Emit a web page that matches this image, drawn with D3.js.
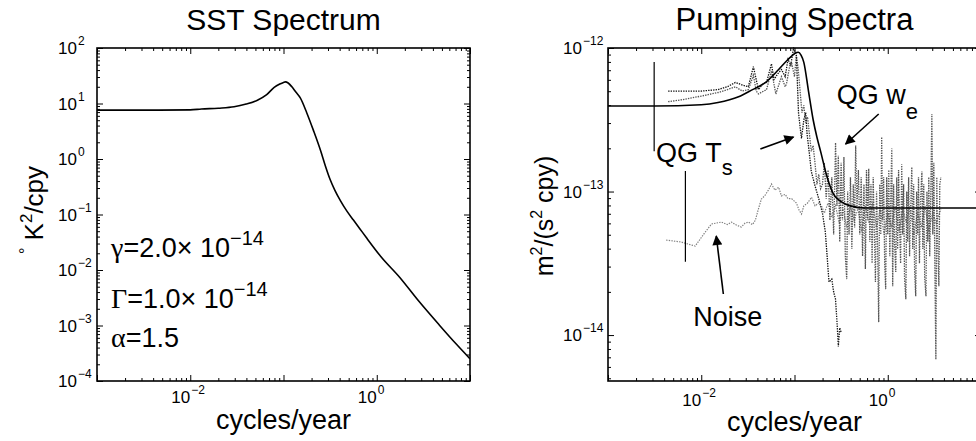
<!DOCTYPE html>
<html><head><meta charset="utf-8">
<script src="https://cdn.jsdelivr.net/npm/d3@7"></script>
<style>
body{margin:0;background:#fff}
text{font-family:"Liberation Sans",Arial,Helvetica,sans-serif;fill:#000}
</style>
</head><body>
<svg id="c" width="976" height="441"></svg>
<script>
// ---------------- DATA (log10 of frequency [cpy], log10 of spectral density) ----------------
const sstLogF = [-3, -2.5, -2.0, -1.88, -1.7, -1.53, -1.4, -1.28, -1.18, -1.1, -1.04, -1.0, -0.98, -0.95, -0.91, -0.87, -0.82, -0.75, -0.68, -0.6, -0.55, -0.5, -0.45, -0.39, -0.32, -0.25, -0.18, -0.11, 0.05, 0.245, 0.45, 0.67, 0.85, 1.0];
const sstLogP = [0.88, 0.88, 0.885, 0.9, 0.915, 0.94, 0.99, 1.06, 1.16, 1.29, 1.35, 1.38, 1.39, 1.37, 1.30, 1.21, 1.10, 0.83, 0.52, 0.14, -0.13, -0.37, -0.56, -0.75, -0.94, -1.1, -1.26, -1.42, -1.77, -2.13, -2.56, -2.99, -3.33, -3.6];

const modelLogF = [-3, -2.5, -2.0, -1.82, -1.6, -1.45, -1.31, -1.17, -1.07, -1.0, -0.96, -0.93, -0.9, -0.85, -0.8, -0.76, -0.72, -0.65, -0.58, -0.5, -0.4, -0.25, 0, 0.5, 1.0];
const modelLogS = [-12.404, -12.404, -12.395, -12.38, -12.34, -12.29, -12.24, -12.15, -12.08, -12.04, -12.03, -12.05, -12.1, -12.3, -12.5, -12.62, -12.72, -12.9, -13.02, -13.07, -13.1, -13.115, -13.115, -13.115, -13.115];

const qgTsLogF = [-2.355, -2.2, -2.0, -1.82, -1.72, -1.634, -1.55, -1.495, -1.441, -1.387, -1.34, -1.30, -1.247, -1.22, -1.18, -1.14, -1.10, -1.07, -1.04, -1.01, -0.98, -0.957, -0.94, -0.925, -0.9, -0.88, -0.865, -0.85, -0.82, -0.78, -0.74, -0.7, -0.67, -0.65, -0.63, -0.6, -0.58, -0.56, -0.545, -0.53, -0.515, -0.5];
const qgTsLogS = [-12.30, -12.30, -12.30, -12.29, -12.27, -12.24, -12.26, -12.27, -12.13, -12.29, -12.25, -12.24, -12.11, -12.22, -12.18, -12.15, -12.2, -12.08, -12.12, -12.0, -12.05, -12.45, -12.55, -12.63, -12.5, -12.45, -12.6, -12.68, -12.86, -12.96, -13.05, -13.15, -13.28, -13.45, -13.63, -13.61, -13.7, -13.75, -13.9, -14.08, -13.95, -13.98];

const qgWeLogF = [-2.355, -2.2, -2.0, -1.817, -1.72, -1.634, -1.56, -1.495, -1.441, -1.41, -1.387, -1.30, -1.247, -1.2, -1.14, -1.1, -1.086, -1.05, -1.032, -1.0, -0.98, -0.96, -0.94, -0.92, -0.9, -0.88, -0.86, -0.84, -0.82, -0.8, -0.78, -0.76, -0.74, -0.72,
  -0.70, -0.68, -0.66, -0.64, -0.62, -0.60, -0.58, -0.56, -0.545, -0.53, -0.515, -0.50, -0.485, -0.47, -0.455, -0.44, -0.43, -0.415, -0.40, -0.385, -0.37, -0.355, -0.344, -0.33, -0.315, -0.30, -0.285, -0.27, -0.255, -0.24, -0.228, -0.216, -0.204, -0.192, -0.18, -0.168, -0.156, -0.144, -0.132, -0.12, -0.108, -0.097, -0.086, -0.075, -0.065, -0.055, -0.044, -0.033, -0.022, -0.011,
  0.0, 0.011, 0.022, 0.033, 0.043, 0.053, 0.063, 0.073, 0.086, 0.096, 0.106, 0.116, 0.126, 0.138, 0.15, 0.16, 0.17, 0.18, 0.194, 0.204, 0.214, 0.224, 0.234, 0.246, 0.258, 0.268, 0.278, 0.288, 0.30, 0.31, 0.32, 0.33, 0.34, 0.352, 0.366, 0.376, 0.386, 0.396, 0.41, 0.42, 0.43, 0.44, 0.45, 0.462, 0.473, 0.483, 0.494, 0.505, 0.516, 0.526, 0.537, 0.548, 0.558, 0.57];
const qgWeLogS = [-12.374, -12.36, -12.335, -12.31, -12.29, -12.27, -12.3, -12.29, -12.19, -12.3, -12.32, -12.29, -12.16, -12.32, -12.2, -12.27, -12.25, -12.12, -12.10, -12.2, -12.05, -12.15, -12.3, -12.45, -12.4, -12.52, -12.48, -12.6, -12.72, -12.68, -12.8, -12.95, -12.88, -12.98,
  -12.95, -12.80, -13.05, -12.85, -13.2, -12.9, -13.3, -12.66, -13.1, -12.75, -13.35, -12.8, -13.2, -12.76, -13.45, -13.61, -13.0, -13.3, -12.9, -13.4, -12.95, -13.25, -12.68, -13.1, -12.85, -13.3, -12.9, -13.45, -12.95, -13.54, -12.85, -13.2, -12.84, -13.35, -12.95, -13.5, -12.9, -13.3, -13.63, -13.0, -13.4, -13.91, -12.95, -13.3, -12.62, -13.2, -12.9, -13.5, -13.68, -12.9,
  -13.3, -12.85, -13.45, -13.0, -12.70, -13.66, -12.95, -13.35, -13.56, -12.9, -13.4, -12.85, -13.2, -13.5, -12.81, -13.3, -12.95, -13.6, -13.75, -13.0, -13.35, -12.9, -13.45, -13.1, -12.83, -13.4, -12.95, -13.55, -13.73, -13.0, -13.3, -12.9, -13.5, -13.05, -12.86, -13.4, -12.95, -13.6, -13.73, -13.0, -13.35, -12.9, -13.45, -13.0, -12.46, -13.3, -12.8, -13.5, -14.17, -12.9, -13.4, -13.66, -12.95, -12.9];

const noiseLogF = [-2.376, -2.215, -2.065, -1.957, -1.89, -1.785, -1.72, -1.677, -1.62, -1.57, -1.53, -1.495, -1.45, -1.42, -1.387, -1.355, -1.32, -1.28, -1.247, -1.21, -1.17, -1.14, -1.1, -1.07, -1.03, -0.98, -0.95, -0.925, -0.9, -0.86, -0.817, -0.78, -0.74, -0.71, -0.68, -0.64, -0.6, -0.56, -0.52, -0.48, -0.44, -0.4, -0.36, -0.32, -0.28, -0.24, -0.2, -0.16, -0.12, -0.08, -0.04, 0, 0.04, 0.08, 0.12, 0.16, 0.2, 0.24, 0.28, 0.32, 0.36, 0.4, 0.44, 0.48, 0.52, 0.57];
const noiseLogS = [-13.338, -13.352, -13.38, -13.282, -13.226, -13.213, -13.23, -13.213, -13.235, -13.247, -13.22, -13.213, -13.23, -13.2, -13.122, -13.052, -13.03, -12.99, -12.948, -12.99, -12.97, -13.03, -13.02, -13.05, -13.05, -13.08, -13.13, -13.157, -13.1, -13.08, -13.04, -13.1, -13.08, -13.1, -13.15, -13.08, -13.18, -13.1, -13.22, -13.12, -13.25, -13.1, -13.2, -13.12, -13.28, -13.1, -13.22, -13.08, -13.25, -13.12, -13.3, -13.15, -13.25, -13.1, -13.28, -13.12, -13.22, -13.1, -13.3, -13.15, -13.25, -13.1, -13.28, -13.15, -13.22, -13.12];

// confidence bars: [log10 f, log10 S low, log10 S high]
const confBars = [[-2.505, -12.72, -12.098], [-2.17, -13.49, -12.857]];

// tick labels (exponents)
const sstXLabelExp = [-2, 0];
const sstYLabelExp = [2, 1, 0, -1, -2, -3, -4];
const pumpXLabelExp = [-2, 0];
const pumpYLabelExp = [-12, -13, -14];

// annotations (right panel, log10 coords): text and arrows
const pumpTexts = [
  {main: "QG T", sub: "s", lf: -2.484, ls: -12.792, dy: 13},
  {main: "QG w", sub: "e", lf: -0.548, ls: -12.39, dy: 15},
  {main: "Noise", sub: "", lf: -2.086, ls: -13.937, dy: 0}
];
const pumpArrows = [
  {from: [-1.366, -12.704], to: [-1.011, -12.62]},
  {from: [-0.097, -12.46], to: [-0.452, -12.669]},
  {from: [-1.763, -13.714], to: [-1.839, -13.31]}
];
// left panel parameter text
const paramLines = [
  {sym: "γ", rest: "=2.0× 10", exp: "−14"},
  {sym: "Γ", rest: "=1.0× 10", exp: "−14"},
  {sym: "α", rest: "=1.5", exp: ""}
];

// ---------------- DRAWING ----------------
const svg = d3.select("#c");
const P = v => Math.pow(10, v);
const minus = s => String(s).replace("-", "−");

const L = {left: 97, right: 470, top: 48, bottom: 381};
const R = {left: 608, right: 981, top: 48, bottom: 381};

const xL = d3.scaleLog().domain([1e-3, 10]).range([L.left, L.right]);
const yL = d3.scaleLog().domain([1e-4, 1e2]).range([L.bottom, L.top]);
const xR = d3.scaleLog().domain([1e-3, 10]).range([R.left, R.right]);
const yR = d3.scaleLog().domain([P(-14.32), 1e-12]).range([R.bottom, R.top]);

function frame(box, x, y, id) {
  const g = svg.append("g");
  const isMajor = v => Math.abs(Math.log10(v) - Math.round(Math.log10(v))) < 1e-9;
  const majX = x.ticks().filter(isMajor), minX = x.ticks().filter(v => !isMajor(v));
  const majY = y.ticks().filter(isMajor), minY = y.ticks().filter(v => !isMajor(v));
  const add = (axis, tr) => g.append("g").attr("transform", tr).call(axis)
      .call(s => s.select(".domain").remove())
      .call(s => s.selectAll("line").attr("stroke", "#000").attr("stroke-width", 1));
  [[majX, 6], [minX, 3]].forEach(([vals, sz]) => {
    add(d3.axisBottom(x).tickValues(vals).tickSize(-sz).tickFormat(""), `translate(0,${box.bottom})`);
    add(d3.axisTop(x).tickValues(vals).tickSize(-sz).tickFormat(""), `translate(0,${box.top})`);
  });
  [[majY, 6], [minY, 3]].forEach(([vals, sz]) => {
    add(d3.axisLeft(y).tickValues(vals).tickSize(-sz).tickFormat(""), `translate(${box.left},0)`);
    add(d3.axisRight(y).tickValues(vals).tickSize(-sz).tickFormat(""), `translate(${box.right},0)`);
  });
  g.append("rect").attr("x", box.left).attr("y", box.top)
    .attr("width", box.right - box.left).attr("height", box.bottom - box.top)
    .attr("fill", "none").attr("stroke", "#000").attr("stroke-width", 1.6);
  svg.append("clipPath").attr("id", id).append("rect")
    .attr("x", box.left).attr("y", box.top - 1).attr("width", box.right - box.left).attr("height", box.bottom - box.top + 2);
}

function xLabels(x, exps, baseY) {
  exps.forEach(e => {
    const px = x(P(e));
    svg.append("text").attr("x", px).attr("y", baseY).attr("text-anchor", "end").attr("font-size", 17).text("10");
    svg.append("text").attr("x", px + 1).attr("y", baseY - 9).attr("font-size", 12).text(minus(e));
  });
}
function yLabels(y, exps, endX) {
  exps.forEach(e => {
    const py = y(P(e));
    svg.append("text").attr("x", endX).attr("y", py + 6).attr("text-anchor", "end").attr("font-size", 17).text("10");
    svg.append("text").attr("x", endX + 1).attr("y", py - 3).attr("font-size", 12).text(minus(e));
  });
}

frame(L, xL, yL, "clipL");
frame(R, xR, yR, "clipR");
xLabels(xL, sstXLabelExp, 403);
xLabels(xR, pumpXLabelExp, 406);
yLabels(yL, sstYLabelExp, 77);
yLabels(yR, pumpYLabelExp, 582);

// titles
svg.append("text").attr("x", (L.left + L.right) / 2).attr("y", 30).attr("text-anchor", "middle").attr("font-size", 30).text("SST Spectrum");
svg.append("text").attr("x", (R.left + R.right) / 2).attr("y", 30).attr("text-anchor", "middle").attr("font-size", 31).text("Pumping Spectra");
// x axis labels
svg.append("text").attr("x", (L.left + L.right) / 2).attr("y", 429).attr("text-anchor", "middle").attr("font-size", 27).text("cycles/year");
svg.append("text").attr("x", (R.left + R.right) / 2).attr("y", 431).attr("text-anchor", "middle").attr("font-size", 27).text("cycles/year");
// y axis labels
const yl1 = svg.append("text").attr("transform", "translate(43,210) rotate(-90)").attr("text-anchor", "middle").attr("font-size", 26);
yl1.append("tspan").attr("font-size", 16).attr("dy", -12).text("°");
yl1.append("tspan").attr("dy", 12).text(" K");
yl1.append("tspan").attr("font-size", 17).attr("dy", -11).text("2");
yl1.append("tspan").attr("dy", 11).text("/cpy");
const yl2 = svg.append("text").attr("transform", "translate(553,216) rotate(-90)").attr("text-anchor", "middle").attr("font-size", 25);
yl2.append("tspan").text("m");
yl2.append("tspan").attr("font-size", 16).attr("dy", -11).text("2");
yl2.append("tspan").attr("dy", 11).text("/(s");
yl2.append("tspan").attr("font-size", 16).attr("dy", -11).text("2");
yl2.append("tspan").attr("dy", 11).text(" cpy)");

// left curve
const lineL = d3.line().x(d => xL(P(d[0]))).y(d => yL(P(d[1]))).curve(d3.curveMonotoneX);
svg.append("path").datum(d3.zip(sstLogF, sstLogP)).attr("d", lineL)
  .attr("fill", "none").attr("stroke", "#000").attr("stroke-width", 1.6).attr("clip-path", "url(#clipL)");

// left parameter text
const paramBase = [257, 308, 347];
paramLines.forEach((p, i) => {
  const t = svg.append("text").attr("x", 111).attr("y", paramBase[i]).attr("font-size", 27);
  t.append("tspan").attr("font-family", "Liberation Serif, DejaVu Serif, serif").attr("font-size", 28).text(p.sym);
  t.append("tspan").text(p.rest);
  if (p.exp) t.append("tspan").attr("font-size", 20).attr("dy", -12).text(p.exp);
});

// right curves
const gR = svg.append("g").attr("clip-path", "url(#clipR)");
const lineR = d3.line().x(d => xR(P(d[0]))).y(d => yR(P(d[1])));
gR.append("path").datum(d3.zip(noiseLogF, noiseLogS)).attr("d", lineR)
  .attr("fill", "none").attr("stroke", "#808080").attr("stroke-width", 1.2).attr("stroke-dasharray", "1.4,1.2");
gR.append("path").datum(d3.zip(qgWeLogF, qgWeLogS)).attr("d", lineR)
  .attr("fill", "none").attr("stroke", "#555").attr("stroke-width", 1.3).attr("stroke-dasharray", "1.4,1.1");
gR.append("path").datum(d3.zip(qgTsLogF, qgTsLogS)).attr("d", lineR)
  .attr("fill", "none").attr("stroke", "#111").attr("stroke-width", 1.3).attr("stroke-dasharray", "1.4,1.1");
gR.append("path").datum(d3.zip(modelLogF, modelLogS)).attr("d", d3.line().x(d => xR(P(d[0]))).y(d => yR(P(d[1]))).curve(d3.curveMonotoneX))
  .attr("fill", "none").attr("stroke", "#000").attr("stroke-width", 1.6);
confBars.forEach(b => {
  gR.append("line").attr("x1", xR(P(b[0]))).attr("x2", xR(P(b[0])))
    .attr("y1", yR(P(b[1]))).attr("y2", yR(P(b[2]))).attr("stroke", "#000").attr("stroke-width", 1.2);
});

// annotations
pumpTexts.forEach(t => {
  const tx = svg.append("text").attr("x", xR(P(t.lf))).attr("y", yR(P(t.ls))).attr("font-size", 27);
  tx.append("tspan").text(t.main);
  if (t.sub) tx.append("tspan").attr("font-size", 22).attr("dy", t.dy).text(t.sub);
});
svg.append("defs").append("marker").attr("id", "ah").attr("viewBox", "0 0 10 10")
  .attr("refX", 9).attr("refY", 5).attr("markerWidth", 12).attr("markerHeight", 10)
  .attr("markerUnits", "userSpaceOnUse").attr("orient", "auto")
  .append("path").attr("d", "M0,0 L10,5 L0,10 z").attr("fill", "#000");
pumpArrows.forEach(a => {
  svg.append("line").attr("x1", xR(P(a.from[0]))).attr("y1", yR(P(a.from[1])))
    .attr("x2", xR(P(a.to[0]))).attr("y2", yR(P(a.to[1])))
    .attr("stroke", "#000").attr("stroke-width", 1.6).attr("marker-end", "url(#ah)");
});
</script>
</body></html>
